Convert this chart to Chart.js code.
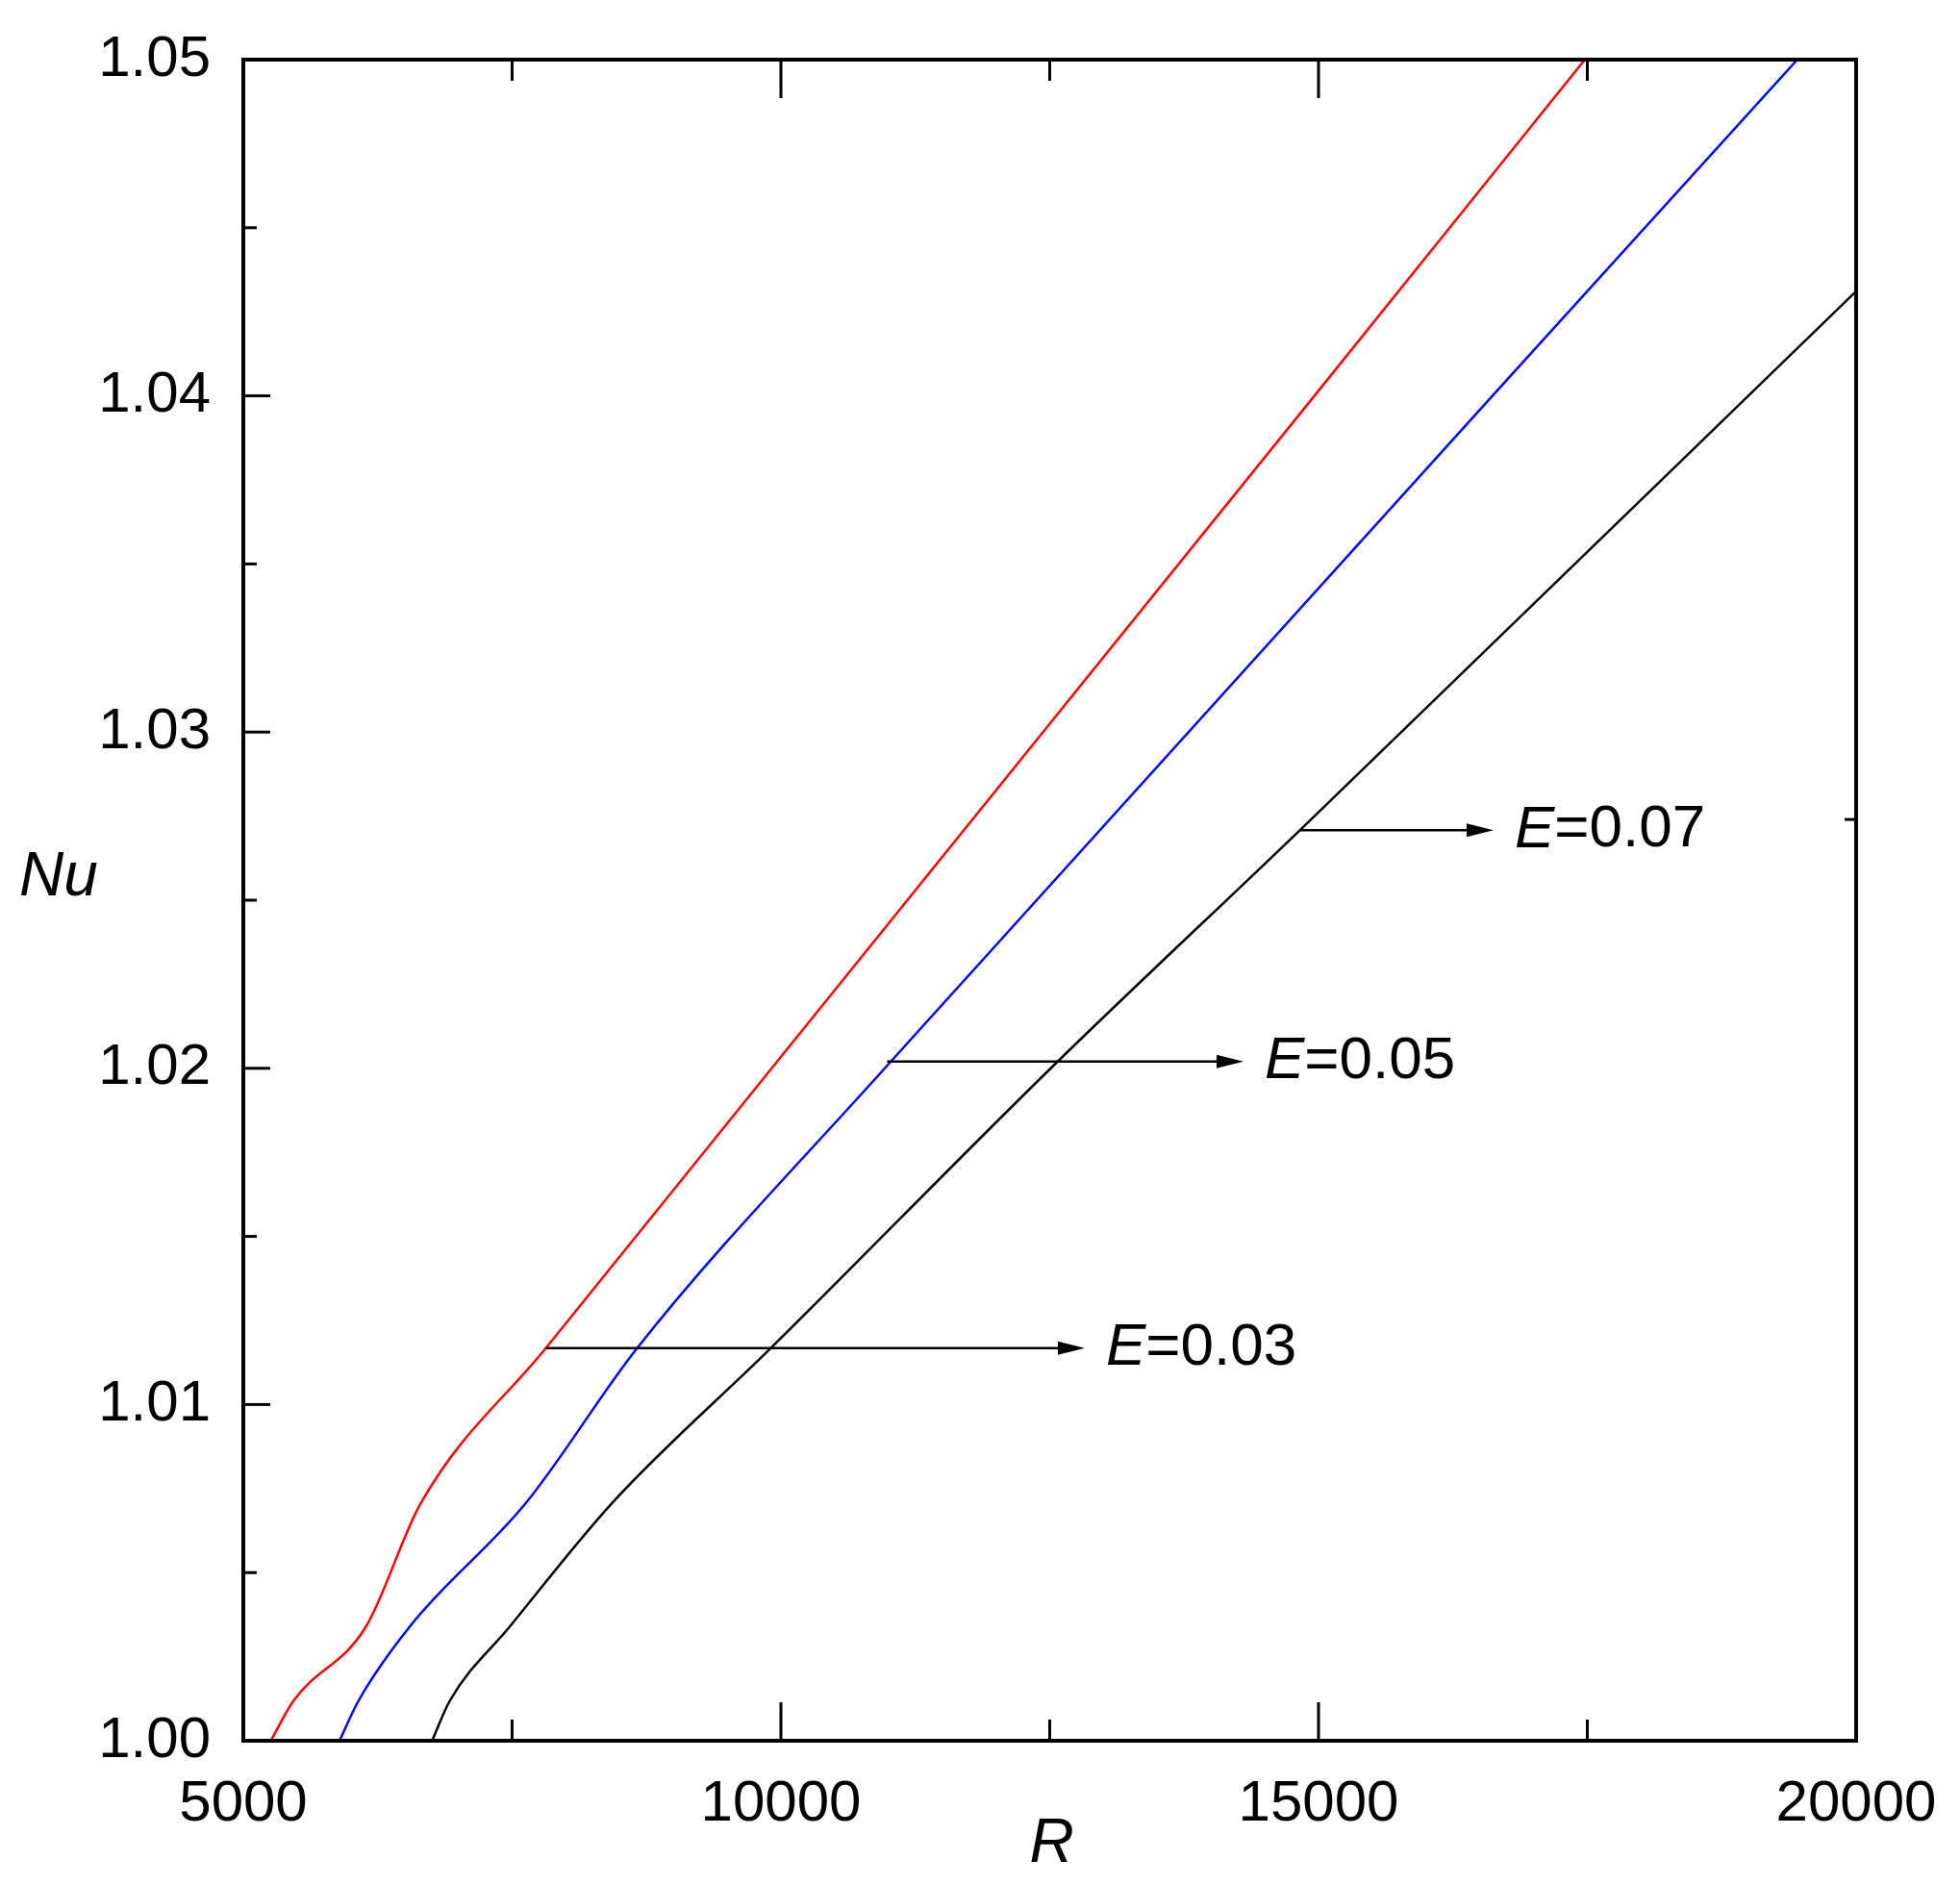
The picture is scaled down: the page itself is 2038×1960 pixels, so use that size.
<!DOCTYPE html>
<html>
<head>
<meta charset="utf-8">
<script src="https://cdn.jsdelivr.net/npm/chart.js@4/dist/chart.umd.min.js"></script>
<style>
  html, body { margin: 0; padding: 0; background: #fff; }
  #wrap { width: 2038px; height: 1960px; }
</style>
</head>
<body>
<div id="wrap"><canvas id="myChart"></canvas></div>
<script>
// values
var redR   = [5256, 5465, 6140, 6651, 7814, 15012, 17477];
var redNu  = [1.0, 1.00118, 1.00339, 1.00707, 1.01168, 1.0402, 1.05];
var blueR  = [5895, 6070, 6547, 7628, 8663, 10988, 19453];
var blueNu = [1.0, 1.00118, 1.00339, 1.00707, 1.01168, 1.02008, 1.05];
var blackR  = [6756, 6919, 7477, 8430, 9907, 12535, 14826, 20000];
var blackNu = [1.0, 1.00118, 1.00339, 1.00707, 1.01168, 1.02008, 1.02708, 1.04311];
var xTicks = [5000, 10000, 15000, 20000];
var yTicks = [1.00, 1.01, 1.02, 1.03, 1.04, 1.05];
// arrows: start R, end R, Nu, label
var arrowFrom = [7814, 10988, 14826];
var arrowTo   = [12826, 14302, 16628];
var arrowNu   = [1.01168, 1.0202, 1.02708];
var arrowText = ["0.03", "0.05", "0.07"];

function pts(xs, ys) {
  return xs.map(function(x, i) { return {x: x, y: ys[i]}; });
}

var FONT = "'Liberation Sans', Arial, sans-serif";

var framePlugin = {
  id: 'frame',
  afterDraw: function(chart) {
    var c = chart.ctx, a = chart.chartArea;
    var xs = chart.scales.x, ys = chart.scales.y;
    c.save();
    c.strokeStyle = '#000';
    c.lineWidth = 4;
    c.strokeRect(a.left, a.top, a.right - a.left, a.bottom - a.top);
    c.lineWidth = 3;
    // x ticks inward, bottom and top
    for (var v = 5000; v <= 20000; v += 2500) {
      var px = xs.getPixelForValue(v);
      var len = (v % 5000 === 0) ? 40 : 22;
      c.beginPath();
      c.moveTo(px, a.bottom); c.lineTo(px, a.bottom - len);
      c.moveTo(px, a.top); c.lineTo(px, a.top + len);
      c.stroke();
    }
    // y ticks inward, left
    for (var k = 0; k <= 10; k++) {
      var py = ys.getPixelForValue(1 + k * 0.005);
      var l2 = (k % 2 === 0) ? 28 : 14;
      c.beginPath();
      c.moveTo(a.left, py); c.lineTo(a.left + l2, py);
      c.stroke();
    }
    // stray tick on the right edge
    var ry = ys.getPixelForValue(1.0274);
    c.beginPath(); c.moveTo(a.right, ry); c.lineTo(a.right - 12, ry); c.stroke();
    // arrows and labels
    c.lineWidth = 2.5;
    c.fillStyle = '#000';
    for (var i = 0; i < arrowFrom.length; i++) {
      var x1 = xs.getPixelForValue(arrowFrom[i]);
      var x2 = xs.getPixelForValue(arrowTo[i]);
      var y = ys.getPixelForValue(arrowNu[i]);
      c.beginPath();
      c.moveTo(x1, y); c.lineTo(x2 - 20, y);
      c.stroke();
      c.beginPath();
      c.moveTo(x2, y); c.lineTo(x2 - 28, y - 7); c.lineTo(x2 - 28, y + 7);
      c.closePath(); c.fill();
      c.textBaseline = 'middle';
      c.textAlign = 'left';
      c.font = 'italic 62px ' + FONT;
      var tx = x2 + 22;
      c.fillText('E', tx, y);
      var w = c.measureText('E').width;
      c.font = '62px ' + FONT;
      c.fillText('=' + arrowText[i], tx + w, y);
    }
    // axis titles
    c.font = 'italic 64px ' + FONT;
    c.textAlign = 'center';
    c.textBaseline = 'middle';
    c.fillText('R', (a.left + a.right) / 2 + 2, 1918);
    c.textAlign = 'left';
    c.fillText('Nu', 20, 913);
    c.restore();
  }
};

new Chart(document.getElementById('myChart'), {
  type: 'scatter',
  data: {
    datasets: [
      { data: pts(redR, redNu), borderColor: '#ff0000' },
      { data: pts(blueR, blueNu), borderColor: '#0000ff' },
      { data: pts(blackR, blackNu), borderColor: '#000000' }
    ].map(function(d) {
      d.showLine = true; d.pointRadius = 0; d.borderWidth = 2.5;
      d.cubicInterpolationMode = 'monotone';
      return d;
    })
  },
  options: {
    responsive: true,
    maintainAspectRatio: false,
    animation: false,
    layout: { padding: { top: 45, right: 108, left: 0, bottom: 0 } },
    plugins: { legend: { display: false }, tooltip: { enabled: false } },
    scales: {
      x: {
        type: 'linear', min: 5000, max: 20000,
        afterBuildTicks: function(s) { s.ticks = xTicks.map(function(v) { return {value: v}; }); },
        afterFit: function(s) { s.height = 150; },
        grid: { display: false },
        border: { display: false },
        ticks: { color: '#000', font: { family: FONT, size: 60 }, padding: 22, maxRotation: 0,
          callback: function(v) { return String(v); } }
      },
      y: {
        type: 'linear', min: 1.0, max: 1.05,
        afterBuildTicks: function(s) { s.ticks = yTicks.map(function(v) { return {value: v}; }); },
        afterFit: function(s) { s.width = 253; },
        grid: { display: false },
        border: { display: false },
        ticks: { color: '#000', font: { family: FONT, size: 60 }, padding: 26,
          callback: function(v) { return v.toFixed(2); } }
      }
    }
  },
  plugins: [framePlugin]
});
</script>
</body>
</html>
